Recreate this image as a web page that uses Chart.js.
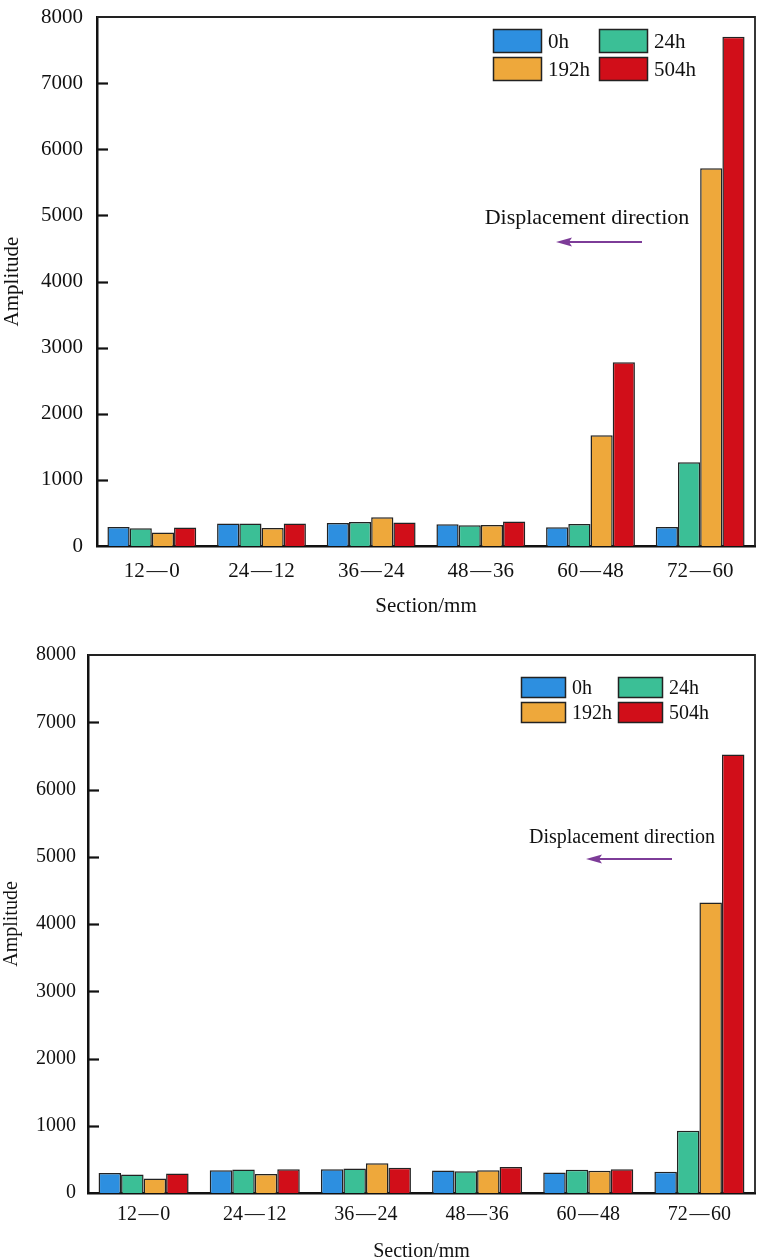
<!DOCTYPE html>
<html><head><meta charset="utf-8">
<script src="https://cdn.jsdelivr.net/npm/chart.js@4.4.0/dist/chart.umd.min.js"></script>
<style>
html,body{margin:0;padding:0;background:#fff;overflow:hidden;width:762px;height:1259px;}
.box{position:absolute;left:0;width:762px;}
#b1{top:0;height:630px;}
#b2{top:630px;height:640px;}
canvas{display:block;}
</style></head><body>
<div class="box" id="b1"><canvas id="c1" width="762" height="630" style="width:762px;height:630px"></canvas></div>
<div class="box" id="b2"><canvas id="c2" width="762" height="640" style="width:762px;height:640px"></canvas></div>
<script>
// ---- data ----
const categories = ['12\u200A—\u200A0', '24\u200A—\u200A12', '36\u200A—\u200A24', '48\u200A—\u200A36', '60\u200A—\u200A48', '72\u200A—\u200A60'];
const seriesLabels = ['0h', '24h', '192h', '504h'];
const yMin = 0, yMax = 8000, yStep = 1000;

const topChart0h   = [287, 339, 348, 328, 283, 287];
const topChart24h  = [268, 339, 363, 313, 333, 1266];
const topChart192h = [203, 272, 434, 318, 1675, 5714];
const topChart504h = [278, 339, 356, 369, 2779, 7700];

const bottomChart0h   = [296, 340, 355, 334, 305, 315];
const bottomChart24h  = [275, 349, 364, 325, 345, 926];
const bottomChart192h = [216, 281, 444, 340, 330, 4320];
const bottomChart504h = [290, 355, 374, 385, 355, 6520];

const xTitle = 'Section/mm';
const yTitle = 'Amplitude';
const noteText = 'Displacement direction';

// ---- styles ----
const colors = ['#2D8FE0', '#3BBF96', '#EEA83B', '#D10E19'];
const FONT = '"Liberation Serif", "Times New Roman", serif';

const decorPlugin = {
  id: 'decor',
  afterDatasetsDraw(chart, args, o) {
    const ctx = chart.ctx, a = chart.chartArea, ys = chart.scales.y;
    ctx.save();
    // inward ticks on left axis
    ctx.strokeStyle = '#111'; ctx.lineWidth = 2.2;
    ys.ticks.forEach(t => {
      if (t.value <= yMin || t.value >= yMax) return;
      const py = Math.round(ys.getPixelForValue(t.value)) + 0.5;
      ctx.beginPath(); ctx.moveTo(a.left, py); ctx.lineTo(a.left + o.tickLen, py); ctx.stroke();
    });
    // top/right frame
    ctx.lineWidth = 1.8; ctx.strokeStyle = '#222';
    ctx.beginPath(); ctx.moveTo(a.left, a.top); ctx.lineTo(a.right, a.top); ctx.lineTo(a.right, a.bottom); ctx.stroke();
    // legend (2 x 2)
    const L = o.legend;
    ctx.font = L.fontSize + 'px ' + FONT; ctx.textBaseline = 'middle'; ctx.textAlign = 'left';
    chart.data.datasets.forEach((ds, i) => {
      const col = i % 2, row = Math.floor(i / 2);
      const bx = col ? L.x2 : L.x1, by = row ? L.y2 : L.y1;
      ctx.fillStyle = ds.backgroundColor;
      ctx.fillRect(bx, by, L.w, L.h);
      ctx.lineWidth = 1.5; ctx.strokeStyle = '#222';
      ctx.strokeRect(bx + 0.5, by + 0.5, L.w - 1, L.h - 1);
      ctx.fillStyle = '#111';
      ctx.fillText(ds.label, bx + L.w + L.gap, by + L.h / 2 + 1);
    });
    // annotation
    const N = o.note;
    ctx.font = N.fontSize + 'px ' + FONT; ctx.textAlign = 'center'; ctx.textBaseline = 'middle'; ctx.fillStyle = '#111';
    ctx.fillText(noteText, N.tx, N.ty);
    ctx.strokeStyle = '#7D3C98'; ctx.fillStyle = '#7D3C98'; ctx.lineWidth = 1.8;
    ctx.beginPath(); ctx.moveTo(N.x0, N.ay); ctx.lineTo(N.x1 + 10, N.ay); ctx.stroke();
    ctx.beginPath(); ctx.moveTo(N.x1, N.ay); ctx.lineTo(N.x1 + 16, N.ay - 4.5); ctx.lineTo(N.x1 + 13, N.ay); ctx.lineTo(N.x1 + 16, N.ay + 4.5); ctx.closePath(); ctx.fill();
    ctx.restore();
  }
};

function makeChart(id, values, g) {
  const datasets = seriesLabels.map((lab, i) => ({
    label: lab,
    data: values[i],
    backgroundColor: colors[i],
    borderColor: '#222',
    borderWidth: 1.5,
    borderSkipped: 'bottom',
    categoryPercentage: 0.81,
    barPercentage: 1.0
  }));
  return new Chart(document.getElementById(id), {
    type: 'bar',
    data: { labels: categories, datasets },
    plugins: [decorPlugin],
    options: {
      responsive: false,
      animation: false,
      devicePixelRatio: 1,
      layout: { padding: { left: 0, top: g.top, right: 762 - g.right, bottom: 0 } },
      plugins: {
        legend: { display: false },
        tooltip: { enabled: false },
        decor: { tickLen: 11, legend: g.legend, note: g.note }
      },
      scales: {
        x: {
          grid: { display: false, drawTicks: false },
          border: { display: true, color: '#111', width: 2.5 },
          ticks: { color: '#111', font: { family: FONT, size: g.fs }, padding: g.xPad, maxRotation: 0 },
          title: { display: true, text: xTitle, color: '#111', font: { family: FONT, size: g.fs }, padding: { top: 0, bottom: g.xTitlePad } },
          afterFit(s) { s.height = g.canvasH - g.bottom; s.paddingLeft = 0; s.paddingRight = 0; }
        },
        y: {
          min: yMin, max: yMax,
          grid: { display: false, drawTicks: false },
          border: { display: true, color: '#111', width: 2.5 },
          ticks: { stepSize: yStep, color: '#111', font: { family: FONT, size: g.fs }, padding: g.yPad, callback: v => String(v) },
          title: { display: true, text: yTitle, color: '#111', font: { family: FONT, size: g.fs }, padding: { top: 0, bottom: 0 } },
          afterFit(s) { s.width = g.left; s.paddingTop = 0; s.paddingBottom = 0; }
        }
      }
    }
  });
}

makeChart('c1', [topChart0h, topChart24h, topChart192h, topChart504h], {
  canvasH: 630, left: 97, right: 755, top: 17, bottom: 546, fs: 21, xPad: 13, yPad: 14, xTitlePad: 11,
  legend: { x1: 493, x2: 599, y1: 29, y2: 57, w: 49, h: 24, gap: 6, fontSize: 21 },
  note: { tx: 587, ty: 218, x0: 642, x1: 556, ay: 242, fontSize: 22 }
});
makeChart('c2', [bottomChart0h, bottomChart24h, bottomChart192h, bottomChart504h], {
  canvasH: 640, left: 88, right: 755, top: 25, bottom: 563, fs: 20, xPad: 10, yPad: 12, xTitlePad: 6,
  legend: { x1: 521, x2: 618, y1: 47, y2: 72, w: 45, h: 21, gap: 6, fontSize: 20 },
  note: { tx: 622, ty: 208, x0: 672, x1: 586, ay: 229, fontSize: 20 }
});
</script>
</body></html>
